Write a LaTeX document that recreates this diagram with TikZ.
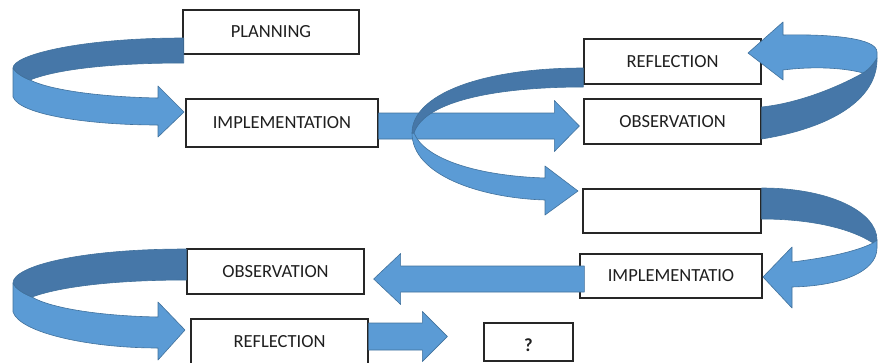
\documentclass[tikz,border=0pt]{standalone}
\usepackage{fontspec}
\setmainfont{Carlito}
\usetikzlibrary{calc}
\definecolor{lightb}{HTML}{5B9BD5}
\definecolor{darkb}{HTML}{4677A8}
\definecolor{edgeb}{HTML}{41719C}
\newcommand\hblock[5]{% start, tip, shaft half, head half, signed head length
  \filldraw[lightpart] let \p1=(#1), \p2=(#2) in
   ({\x1},{\y1+#3}) -- ({\x2-(#5)},{\y1+#3}) -- ({\x2-(#5)},{\y1+#4}) -- ({\x2},{\y1})
   -- ({\x2-(#5)},{\y1-#4}) -- ({\x2-(#5)},{\y1-#3}) -- ({\x1},{\y1-#3}) -- cycle;}
\begin{document}
\begin{tikzpicture}[x=1pt,y=-1pt,
  box/.style={draw=black!85, line width=1.3pt, fill=white, inner sep=0pt,
    font=\fontsize{18.5}{20}\selectfont, text=black!88},
  lightpart/.style={fill=lightb, draw=edgeb, line width=0.6pt, line join=round},
  darkpart/.style={fill=darkb, draw=edgeb, line width=0.6pt, line join=round}]
\useasboundingbox (0,0) rectangle (878,362);

% boxes
\node[box, minimum width=176pt, minimum height=44pt] (plan) at (271,32) {PLANNING};
\node[box, minimum width=192pt, minimum height=48pt] (impl1) at (282,123) {IMPLEMENTATION};
\node[box, minimum width=177pt, minimum height=45pt] (refl1) at (672.5,61.5) {REFLECTION};
\node[box, minimum width=177pt, minimum height=45pt] (obs1) at (672.5,121.5) {OBSERVATION};
\node[box, minimum width=178pt, minimum height=44pt] (empty) at (672,211) {};
\node[box, minimum width=182pt, minimum height=44pt] (impl2) at (671,276) {IMPLEMENTATIO};
\node[box, minimum width=177pt, minimum height=45pt] (obs2) at (275.5,271.5) {OBSERVATION};
\node[box, minimum width=177pt, minimum height=45pt] (refl2) at (279.5,341.5) {REFLECTION};
\node[box, minimum width=89pt, minimum height=38pt] (q) at (528.5,342) {};
\node[font=\fontsize{18.5}{20}\selectfont\bfseries, text=black!88] (qm) at (528.5,345.5) {?};

% straight arrows
\hblock{$(impl1.east)+(0,3)$}{$(obs1.west)+(-4,0)$}{13pt}{25.5pt}{25pt}
\hblock{$(impl2.west)+(5,3)$}{$(obs2.east)+(9,0)$}{13pt}{25.5pt}{-27pt}
\hblock{$(refl2.east)+(0,-5)$}{$(q.west)+(-36,0)$}{13.5pt}{25pt}{25pt}

% curved arrow: planning -> implementation
\filldraw[lightpart] (13,68) -- (13,97) .. controls (20,115) and (90,125) .. (158,125)
  -- (158,137) -- (184,112) -- (158,86) -- (158,98)
  .. controls (100,97) and (50,90) .. (30,80) .. controls (22,77) and (15,72) .. (13,68) -- cycle;
\filldraw[darkpart] (183.7,38) .. controls (80,38) and (13,55) .. (13,68)
  .. controls (15,72) and (22,77) .. (30,80) .. controls (60,68) and (120,63) .. (183.7,63) -- cycle;

% curved arrow: reflection -> empty box
\filldraw[lightpart] (412,133) .. controls (412,175) and (480,198) .. (545,200)
  -- (545,215) -- (578,191) -- (545,166) -- (545,178)
  .. controls (480,176) and (425,160) .. (414,133) -- cycle;
\filldraw[darkpart] (583.3,68) .. controls (480,68) and (412,95) .. (412,133)
  -- (414,133) .. controls (425,100) and (500,87) .. (583.3,87) -- cycle;

% curved arrow: observation -> reflection (right)
\filldraw[darkpart] (761.7,107) -- (761.7,139) .. controls (830,128) and (878,100) .. (877,58)
  .. controls (872,66) and (868,70) .. (863,73) .. controls (840,86) and (800,103) .. (761.7,107) -- cycle;
\filldraw[lightpart] (783,35) .. controls (830,34) and (877,38) .. (877,52) -- (877,58)
  .. controls (872,66) and (868,70) .. (863,73) .. controls (845,68) and (815,66) .. (783,70)
  -- (783,80) -- (748,53) -- (783,22) -- cycle;

% curved arrow: empty box -> implementatio (right)
\filldraw[darkpart] (761.7,188) .. controls (830,188) and (877,212) .. (877,240)
  -- (873,243) .. controls (850,228) and (810,219) .. (761.7,219) -- cycle;
\filldraw[lightpart] (877,240) -- (877,248) .. controls (877,272) and (840,286) .. (792,287)
  -- (792,308) -- (763,277) -- (792,247) -- (792,262)
  .. controls (825,258) and (855,252) .. (873,243) -- cycle;

% curved arrow: observation -> reflection (bottom left)
\filldraw[lightpart] (13,283) -- (13,312) .. controls (20,333) and (90,348) .. (158,348)
  -- (158,360) -- (185,330) -- (158,302) -- (158,317)
  .. controls (100,316) and (50,308) .. (32,297) .. controls (22,293) and (15,288) .. (13,283) -- cycle;
\filldraw[darkpart] (186.3,249) .. controls (80,249) and (13,266) .. (13,283)
  .. controls (15,288) and (22,293) .. (32,297) .. controls (65,285) and (125,280) .. (186.3,280) -- cycle;
\end{tikzpicture}
\end{document}
